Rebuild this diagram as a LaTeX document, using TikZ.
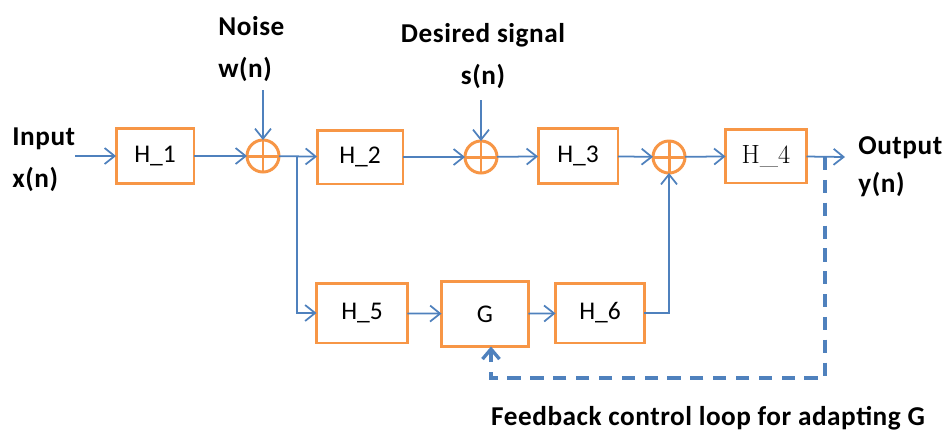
\documentclass[tikz,border=0pt]{standalone}
\usepackage{fontspec}
\setsansfont{Carlito}
\usetikzlibrary{arrows.meta}
\definecolor{boxorange}{RGB}{247,150,70}
\definecolor{lineblue}{RGB}{79,129,189}
\tikzset{
  blk/.style={draw=boxorange,line width=1.7pt,inner sep=0pt,outer sep=0pt,
    font=\sffamily\fontsize{14.5}{16}\selectfont},
  sumnode/.style={circle,draw=boxorange,line width=1.7pt,minimum size=0.64cm,
    inner sep=0pt,outer sep=0pt,
    path picture={\draw[boxorange,line width=1.7pt]
      (path picture bounding box.north) -- (path picture bounding box.south)
      (path picture bounding box.west) -- (path picture bounding box.east);}},
  sig/.style={draw=lineblue,line width=1pt,-{Straight Barb[length=2mm,width=3.2mm]}},
  fbline/.style={draw=lineblue,line width=1.9pt,dash pattern=on 7.5pt off 5.5pt,
    -{Straight Barb[length=2mm,width=3.4mm]}},
  lbl/.style={font=\sffamily\bfseries\fontsize{15.5}{24}\selectfont\addfontfeatures{LetterSpace=2},inner sep=0pt}
}
\begin{document}
\begin{tikzpicture}[x=0.02cm,y=-0.02cm]
\useasboundingbox (0,0) rectangle (947,434);
% blocks
\node[blk,minimum width=1.56cm,minimum height=1.1cm] (h1) at (155,156) {H\_1};
\node[blk,minimum width=1.72cm,minimum height=1.08cm] (h2) at (360,157) {H\_2};
\node[blk,minimum width=1.6cm,minimum height=1.1cm] (h3) at (578,156) {H\_3};
\node[blk,minimum width=1.62cm,minimum height=1.08cm,font=\rmfamily\fontsize{15}{16}\selectfont] (h4) at (766,156) {H\_4};
\node[blk,minimum width=1.82cm,minimum height=1.2cm] (h5) at (362,313) {H\_5};
\node[blk,minimum width=1.74cm,minimum height=1.3cm] (g) at (485,314) {G};
\node[blk,minimum width=1.78cm,minimum height=1.2cm] (h6) at (600,313) {H\_6};
% adders
\node[sumnode] (s1) at (263,156) {};
\node[sumnode] (s2) at (481,157) {};
\node[sumnode] (s3) at (669,157) {};
% labels
\node[lbl,anchor=west,align=left] (inp) at (12,160) {Input\\x(n)};
\node[lbl,anchor=north west,align=left] (noise) at (218,16) {Noise\\w(n)};
\node[lbl,anchor=north,align=center] (des) at (483,23) {Desired signal\\s(n)};
\node[lbl,anchor=west,align=left,font=\sffamily\bfseries\fontsize{15.5}{21.5}\selectfont\addfontfeatures{LetterSpace=2}] (outp) at (858,167) {Output\\y(n)};
\node[lbl] (fbtext) at (708,418) {Feedback control loop for adapting G};
\coordinate (wn) at (263,90);
\coordinate (sn) at (481,100);
\coordinate (yn) at (845,157);
\coordinate (br) at (297,157);
\coordinate (fb) at (825,157);
\coordinate (fbc) at (825,378);
% signal path
\draw[sig] (inp.east |- h1) -- (h1);
\draw[sig] (h1) -- (s1);
\draw[sig] (wn) -- (s1);
\draw[sig] (s1) -- (h2);
\draw[sig] (h2) -- (s2);
\draw[sig] (sn) -- (s2);
\draw[sig] (s2) -- (h3);
\draw[sig] (h3) -- (s3);
\draw[sig] (s3) -- (h4);
\draw[sig] (h4) -- (yn);
\draw[sig] (br) |- (h5);
\draw[sig] (h5) -- (g);
\draw[sig] (g) -- (h6);
\draw[sig] (h6) -| (s3);
\draw[fbline] (fb) -- (fbc) -| ([xshift=0.12cm]g.south);
\end{tikzpicture}
\end{document}
